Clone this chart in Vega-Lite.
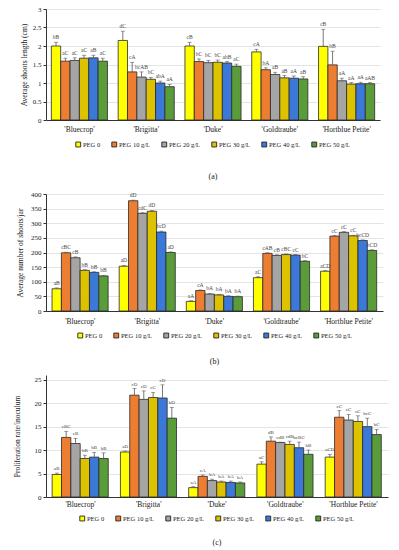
{
  "$schema": "https://vega.github.io/schema/vega-lite/v6.json",
  "padding": {"left": 13, "top": 5, "right": 5, "bottom": 2},
  "background": "white",
  "align": "none",
  "spacing": 9,
  "config": {
    "font": "Liberation Serif",
    "view": {"stroke": null},
    "axis": {"labelFont": "Liberation Serif", "titleFont": "Liberation Serif", "labelFontSize": 7, "titleFontSize": 7.5, "titleFontWeight": "normal", "labelColor": "#222", "titleColor": "#222", "domainColor": "#333", "tickColor": "#333", "tickSize": 3, "labelPadding": 2, "gridColor": "#d9d9d9", "gridWidth": 0.7},
    "legend": {"orient": "bottom", "direction": "horizontal", "title": null, "symbolType": "square", "symbolSize": 24, "symbolStrokeColor": "#222", "symbolStrokeWidth": 0.9, "labelFont": "Liberation Serif", "labelFontSize": 6.5, "labelColor": "#222", "columnPadding": 9, "labelOffset": 1.5, "layout": {"bottom": {"anchor": "middle"}}},
    "title": {"font": "Liberation Serif", "fontSize": 8, "fontWeight": "normal", "color": "#222"}
  },
  "datasets": {
    "a": [
      {"c": "'Bluecrop'", "p": "PEG 0", "v": 2.0, "hi": 2.1, "l": "bB"},
      {"c": "'Bluecrop'", "p": "PEG 10 g/L", "v": 1.59, "hi": 1.67, "l": "aC"},
      {"c": "'Bluecrop'", "p": "PEG 20 g/L", "v": 1.61, "hi": 1.68, "l": "aC"},
      {"c": "'Bluecrop'", "p": "PEG 30 g/L", "v": 1.67, "hi": 1.75, "l": "aC"},
      {"c": "'Bluecrop'", "p": "PEG 40 g/L", "v": 1.68, "hi": 1.75, "l": "aB"},
      {"c": "'Bluecrop'", "p": "PEG 50 g/L", "v": 1.59, "hi": 1.67, "l": "aC"},
      {"c": "'Brigitta'", "p": "PEG 0", "v": 2.15, "hi": 2.4, "l": "dC"},
      {"c": "'Brigitta'", "p": "PEG 10 g/L", "v": 1.3, "hi": 1.56, "l": "cA"},
      {"c": "'Brigitta'", "p": "PEG 20 g/L", "v": 1.16, "hi": 1.3, "l": "bcAB"},
      {"c": "'Brigitta'", "p": "PEG 30 g/L", "v": 1.1, "hi": 1.15, "l": "bC"},
      {"c": "'Brigitta'", "p": "PEG 40 g/L", "v": 1.0, "hi": 1.05, "l": "abA"},
      {"c": "'Brigitta'", "p": "PEG 50 g/L", "v": 0.9, "hi": 0.96, "l": "aA"},
      {"c": "'Duke'", "p": "PEG 0", "v": 2.0, "hi": 2.1, "l": "cB"},
      {"c": "'Duke'", "p": "PEG 10 g/L", "v": 1.58, "hi": 1.65, "l": "bC"},
      {"c": "'Duke'", "p": "PEG 20 g/L", "v": 1.55, "hi": 1.61, "l": "bC"},
      {"c": "'Duke'", "p": "PEG 30 g/L", "v": 1.56, "hi": 1.62, "l": "bC"},
      {"c": "'Duke'", "p": "PEG 40 g/L", "v": 1.54, "hi": 1.58, "l": "abB"},
      {"c": "'Duke'", "p": "PEG 50 g/L", "v": 1.45, "hi": 1.51, "l": "aC"},
      {"c": "'Goldtraube'", "p": "PEG 0", "v": 1.84, "hi": 1.91, "l": "cA"},
      {"c": "'Goldtraube'", "p": "PEG 10 g/L", "v": 1.36, "hi": 1.41, "l": "bA"},
      {"c": "'Goldtraube'", "p": "PEG 20 g/L", "v": 1.23, "hi": 1.29, "l": "aB"},
      {"c": "'Goldtraube'", "p": "PEG 30 g/L", "v": 1.14, "hi": 1.2, "l": "aB"},
      {"c": "'Goldtraube'", "p": "PEG 40 g/L", "v": 1.13, "hi": 1.19, "l": "aA"},
      {"c": "'Goldtraube'", "p": "PEG 50 g/L", "v": 1.11, "hi": 1.17, "l": "aB"},
      {"c": "'Hortblue Petite'", "p": "PEG 0", "v": 1.99, "hi": 2.45, "l": "cB"},
      {"c": "'Hortblue Petite'", "p": "PEG 10 g/L", "v": 1.49, "hi": 1.86, "l": "bB"},
      {"c": "'Hortblue Petite'", "p": "PEG 20 g/L", "v": 1.06, "hi": 1.13, "l": "aA"},
      {"c": "'Hortblue Petite'", "p": "PEG 30 g/L", "v": 0.97, "hi": 1.01, "l": "aA"},
      {"c": "'Hortblue Petite'", "p": "PEG 40 g/L", "v": 0.98, "hi": 1.02, "l": "aA"},
      {"c": "'Hortblue Petite'", "p": "PEG 50 g/L", "v": 0.98, "hi": 1.01, "l": "aAB"}
    ],
    "b": [
      {"c": "'Bluecrop'", "p": "PEG 0", "v": 76, "hi": 79, "l": "aB"},
      {"c": "'Bluecrop'", "p": "PEG 10 g/L", "v": 199, "hi": 201, "l": "cBC"},
      {"c": "'Bluecrop'", "p": "PEG 20 g/L", "v": 182, "hi": 185, "l": "cB"},
      {"c": "'Bluecrop'", "p": "PEG 30 g/L", "v": 139, "hi": 141, "l": "bB"},
      {"c": "'Bluecrop'", "p": "PEG 40 g/L", "v": 132, "hi": 134, "l": "bB"},
      {"c": "'Bluecrop'", "p": "PEG 50 g/L", "v": 120, "hi": 122, "l": "bB"},
      {"c": "'Brigitta'", "p": "PEG 0", "v": 153, "hi": 156, "l": "aD"},
      {"c": "'Brigitta'", "p": "PEG 10 g/L", "v": 377, "hi": 379, "l": "dD"},
      {"c": "'Brigitta'", "p": "PEG 20 g/L", "v": 334, "hi": 336, "l": "cdC"},
      {"c": "'Brigitta'", "p": "PEG 30 g/L", "v": 341, "hi": 344, "l": "dD"},
      {"c": "'Brigitta'", "p": "PEG 40 g/L", "v": 270, "hi": 273, "l": "bcD"},
      {"c": "'Brigitta'", "p": "PEG 50 g/L", "v": 200, "hi": 202, "l": "aD"},
      {"c": "'Duke'", "p": "PEG 0", "v": 33, "hi": 35, "l": "aA"},
      {"c": "'Duke'", "p": "PEG 10 g/L", "v": 70, "hi": 72, "l": "cA"},
      {"c": "'Duke'", "p": "PEG 20 g/L", "v": 58, "hi": 60, "l": "bA"},
      {"c": "'Duke'", "p": "PEG 30 g/L", "v": 55, "hi": 57, "l": "bA"},
      {"c": "'Duke'", "p": "PEG 40 g/L", "v": 50, "hi": 52, "l": "bA"},
      {"c": "'Duke'", "p": "PEG 50 g/L", "v": 49, "hi": 51, "l": "bA"},
      {"c": "'Goldtraube'", "p": "PEG 0", "v": 114, "hi": 117, "l": "aC"},
      {"c": "'Goldtraube'", "p": "PEG 10 g/L", "v": 197, "hi": 199, "l": "cAB"},
      {"c": "'Goldtraube'", "p": "PEG 20 g/L", "v": 190, "hi": 192, "l": "cB"},
      {"c": "'Goldtraube'", "p": "PEG 30 g/L", "v": 193, "hi": 195, "l": "cBC"},
      {"c": "'Goldtraube'", "p": "PEG 40 g/L", "v": 191, "hi": 193, "l": "cC"},
      {"c": "'Goldtraube'", "p": "PEG 50 g/L", "v": 170, "hi": 172, "l": "bC"},
      {"c": "'Hortblue Petite'", "p": "PEG 0", "v": 136, "hi": 138, "l": "aCD"},
      {"c": "'Hortblue Petite'", "p": "PEG 10 g/L", "v": 256, "hi": 258, "l": "cC"},
      {"c": "'Hortblue Petite'", "p": "PEG 20 g/L", "v": 269, "hi": 271, "l": "cC"},
      {"c": "'Hortblue Petite'", "p": "PEG 30 g/L", "v": 257, "hi": 259, "l": "cC"},
      {"c": "'Hortblue Petite'", "p": "PEG 40 g/L", "v": 241, "hi": 243, "l": "bcCD"},
      {"c": "'Hortblue Petite'", "p": "PEG 50 g/L", "v": 207, "hi": 209, "l": "bCD"}
    ],
    "c": [
      {"c": "'Bluecrop'", "p": "PEG 0", "v": 4.8, "hi": 5.1, "l": "aB"},
      {"c": "'Bluecrop'", "p": "PEG 10 g/L", "v": 12.7, "hi": 14.0, "l": "cBC"},
      {"c": "'Bluecrop'", "p": "PEG 20 g/L", "v": 11.4, "hi": 12.5, "l": "cB"},
      {"c": "'Bluecrop'", "p": "PEG 30 g/L", "v": 8.2, "hi": 8.9, "l": "bB"},
      {"c": "'Bluecrop'", "p": "PEG 40 g/L", "v": 8.5, "hi": 9.5, "l": "bB"},
      {"c": "'Bluecrop'", "p": "PEG 50 g/L", "v": 8.2, "hi": 9.4, "l": "bB"},
      {"c": "'Brigitta'", "p": "PEG 0", "v": 9.6, "hi": 9.8, "l": "aD"},
      {"c": "'Brigitta'", "p": "PEG 10 g/L", "v": 21.7, "hi": 23.1, "l": "cD"},
      {"c": "'Brigitta'", "p": "PEG 20 g/L", "v": 20.8, "hi": 22.6, "l": "cD"},
      {"c": "'Brigitta'", "p": "PEG 30 g/L", "v": 21.2, "hi": 22.3, "l": "cC"},
      {"c": "'Brigitta'", "p": "PEG 40 g/L", "v": 21.1, "hi": 23.9, "l": "cD"},
      {"c": "'Brigitta'", "p": "PEG 50 g/L", "v": 16.8, "hi": 19.1, "l": "bD"},
      {"c": "'Duke'", "p": "PEG 0", "v": 2.0, "hi": 2.2, "l": "aA"},
      {"c": "'Duke'", "p": "PEG 10 g/L", "v": 4.4, "hi": 4.7, "l": "cA"},
      {"c": "'Duke'", "p": "PEG 20 g/L", "v": 3.5, "hi": 3.8, "l": "bA"},
      {"c": "'Duke'", "p": "PEG 30 g/L", "v": 3.2, "hi": 3.4, "l": "bA"},
      {"c": "'Duke'", "p": "PEG 40 g/L", "v": 3.1, "hi": 3.4, "l": "bA"},
      {"c": "'Duke'", "p": "PEG 50 g/L", "v": 3.0, "hi": 3.2, "l": "bA"},
      {"c": "'Goldtraube'", "p": "PEG 0", "v": 7.0, "hi": 7.5, "l": "aC"},
      {"c": "'Goldtraube'", "p": "PEG 10 g/L", "v": 11.9, "hi": 12.8, "l": "dB"},
      {"c": "'Goldtraube'", "p": "PEG 20 g/L", "v": 11.6, "hi": 11.7, "l": "cdB"},
      {"c": "'Goldtraube'", "p": "PEG 30 g/L", "v": 11.2, "hi": 11.9, "l": "cdB"},
      {"c": "'Goldtraube'", "p": "PEG 40 g/L", "v": 10.5, "hi": 11.7, "l": "bcBC"},
      {"c": "'Goldtraube'", "p": "PEG 50 g/L", "v": 9.1, "hi": 10.0, "l": "bB"},
      {"c": "'Hortblue Petite'", "p": "PEG 0", "v": 8.5, "hi": 9.1, "l": "aCD"},
      {"c": "'Hortblue Petite'", "p": "PEG 10 g/L", "v": 17.0, "hi": 18.4, "l": "cC"},
      {"c": "'Hortblue Petite'", "p": "PEG 20 g/L", "v": 16.4, "hi": 17.6, "l": "cC"},
      {"c": "'Hortblue Petite'", "p": "PEG 30 g/L", "v": 16.1, "hi": 17.3, "l": "cC"},
      {"c": "'Hortblue Petite'", "p": "PEG 40 g/L", "v": 15.0, "hi": 16.8, "l": "bcC"},
      {"c": "'Hortblue Petite'", "p": "PEG 50 g/L", "v": 13.3, "hi": 14.4, "l": "bC"}
    ]
  },
  "vconcat": [
    {
      "width": 334, "height": 111,
      "data": {"name": "a"},
      "title": {"text": "(a)", "orient": "bottom", "offset": 24},
      "encoding": {
        "x": {"field": "c", "type": "nominal", "sort": null, "scale": {"paddingInner": 0.16, "paddingOuter": 0.08}, "axis": {"title": null, "labelAngle": 0, "ticks": false, "labelPadding": 5, "labelFontSize": 7.5}},
        "xOffset": {"field": "p", "type": "nominal", "sort": null, "scale": {"padding": 0}}
      },
      "layer": [
        {"mark": {"type": "bar", "stroke": "#2a2a2a", "strokeWidth": 0.8},
         "encoding": {
           "y": {"field": "v", "type": "quantitative", "scale": {"domain": [0, 3]}, "axis": {"title": "Average shoots length (cm)", "values": [0, 0.5, 1, 1.5, 2, 2.5, 3], "format": "~g", "titlePadding": 4}},
           "color": {"field": "p", "type": "nominal", "sort": null, "scale": {"domain": ["PEG 0", "PEG 10 g/L", "PEG 20 g/L", "PEG 30 g/L", "PEG 40 g/L", "PEG 50 g/L"], "range": ["#FFFF00", "#ED7D31", "#A5A5A5", "#DDC200", "#3B78D8", "#5A9B3A"]}, "legend": {"offset": 8}}
         }},
        {"mark": {"type": "rule", "color": "#555", "strokeWidth": 0.8}, "encoding": {"y": {"field": "v", "type": "quantitative", "axis": {"title": "Average shoots length (cm)", "values": [0, 0.5, 1, 1.5, 2, 2.5, 3], "format": "~g", "titlePadding": 4}}, "y2": {"field": "hi"}}},
        {"mark": {"type": "tick", "color": "#555", "thickness": 0.8, "size": 4}, "encoding": {"y": {"field": "hi", "type": "quantitative", "axis": {"title": "Average shoots length (cm)", "values": [0, 0.5, 1, 1.5, 2, 2.5, 3], "format": "~g", "titlePadding": 4}}}},
        {"mark": {"type": "text", "fontSize": 5.5, "dy": -2, "baseline": "bottom", "color": "#444"}, "encoding": {"y": {"field": "hi", "type": "quantitative", "axis": {"title": "Average shoots length (cm)", "values": [0, 0.5, 1, 1.5, 2, 2.5, 3], "format": "~g", "titlePadding": 4}}, "text": {"field": "l"}}}
      ]
    },
    {
      "width": 337, "height": 117,
      "data": {"name": "b"},
      "title": {"text": "(b)", "orient": "bottom", "offset": 18},
      "encoding": {
        "x": {"field": "c", "type": "nominal", "sort": null, "scale": {"paddingInner": 0.16, "paddingOuter": 0.09}, "axis": {"title": null, "labelAngle": 0, "ticks": false, "labelPadding": 6, "labelFontSize": 7.5}},
        "xOffset": {"field": "p", "type": "nominal", "sort": null, "scale": {"padding": 0}}
      },
      "layer": [
        {"mark": {"type": "bar", "stroke": "#2a2a2a", "strokeWidth": 0.8},
         "encoding": {
           "y": {"field": "v", "type": "quantitative", "scale": {"domain": [0, 400]}, "axis": {"title": "Average number of shoots/jar", "values": [0, 50, 100, 150, 200, 250, 300, 350, 400], "titlePadding": 6}},
           "color": {"field": "p", "type": "nominal", "sort": null, "scale": {"domain": ["PEG 0", "PEG 10 g/L", "PEG 20 g/L", "PEG 30 g/L", "PEG 40 g/L", "PEG 50 g/L"], "range": ["#FFFF00", "#ED7D31", "#A5A5A5", "#DDC200", "#3B78D8", "#5A9B3A"]}, "legend": {"offset": 7}}
         }},
        {"mark": {"type": "rule", "color": "#555", "strokeWidth": 0.8}, "encoding": {"y": {"field": "v", "type": "quantitative", "axis": {"title": "Average number of shoots/jar", "values": [0, 50, 100, 150, 200, 250, 300, 350, 400], "titlePadding": 6}}, "y2": {"field": "hi"}}},
        {"mark": {"type": "tick", "color": "#555", "thickness": 0.8, "size": 4}, "encoding": {"y": {"field": "hi", "type": "quantitative", "axis": {"title": "Average number of shoots/jar", "values": [0, 50, 100, 150, 200, 250, 300, 350, 400], "titlePadding": 6}}}},
        {"mark": {"type": "text", "fontSize": 5.5, "dy": -2, "baseline": "bottom", "color": "#444"}, "encoding": {"y": {"field": "hi", "type": "quantitative", "axis": {"title": "Average number of shoots/jar", "values": [0, 50, 100, 150, 200, 250, 300, 350, 400], "titlePadding": 6}}, "text": {"field": "l"}}}
      ]
    },
    {
      "width": 342, "height": 122,
      "data": {"name": "c"},
      "title": {"text": "(c)", "orient": "bottom", "offset": 16},
      "encoding": {
        "x": {"field": "c", "type": "nominal", "sort": null, "scale": {"paddingInner": 0.17, "paddingOuter": 0.09}, "axis": {"title": null, "labelAngle": 0, "ticks": false, "labelPadding": 3, "labelFontSize": 7.5}},
        "xOffset": {"field": "p", "type": "nominal", "sort": null, "scale": {"padding": 0}}
      },
      "layer": [
        {"mark": {"type": "bar", "stroke": "#2a2a2a", "strokeWidth": 0.8},
         "encoding": {
           "y": {"field": "v", "type": "quantitative", "scale": {"domain": [0, 25]}, "axis": {"title": "Proliferation rate/inoculum", "values": [0, 5, 10, 15, 20, 25], "titlePadding": 13}},
           "color": {"field": "p", "type": "nominal", "sort": null, "scale": {"domain": ["PEG 0", "PEG 10 g/L", "PEG 20 g/L", "PEG 30 g/L", "PEG 40 g/L", "PEG 50 g/L"], "range": ["#FFFF00", "#ED7D31", "#A5A5A5", "#DDC200", "#3B78D8", "#5A9B3A"]}, "legend": {"offset": 7}}
         }},
        {"mark": {"type": "rule", "color": "#555", "strokeWidth": 0.8}, "encoding": {"y": {"field": "v", "type": "quantitative", "axis": {"title": "Proliferation rate/inoculum", "values": [0, 5, 10, 15, 20, 25], "titlePadding": 13}}, "y2": {"field": "hi"}}},
        {"mark": {"type": "tick", "color": "#555", "thickness": 0.8, "size": 4}, "encoding": {"y": {"field": "hi", "type": "quantitative", "axis": {"title": "Proliferation rate/inoculum", "values": [0, 5, 10, 15, 20, 25], "titlePadding": 13}}}},
        {"mark": {"type": "text", "fontSize": 5, "dy": -2, "baseline": "bottom", "color": "#444"}, "encoding": {"y": {"field": "hi", "type": "quantitative", "axis": {"title": "Proliferation rate/inoculum", "values": [0, 5, 10, 15, 20, 25], "titlePadding": 13}}, "text": {"field": "l"}}}
      ]
    }
  ],
  "resolve": {"legend": {"color": "independent"}, "scale": {"y": "independent"}}
}
